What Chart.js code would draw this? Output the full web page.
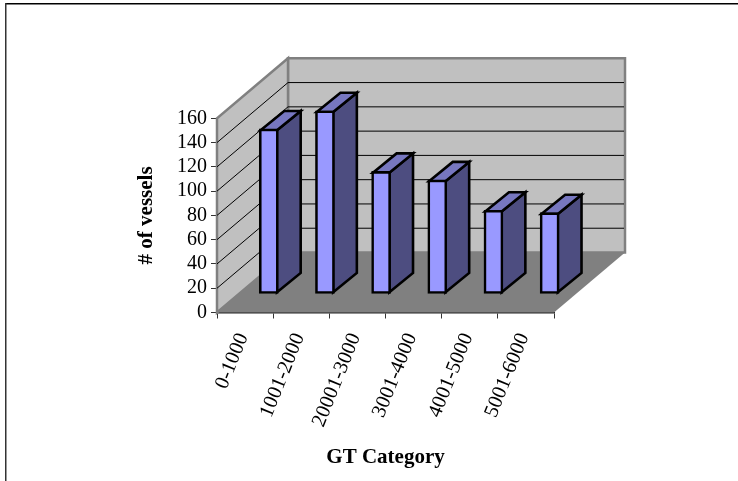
<!DOCTYPE html>
<html>
<head>
<meta charset="utf-8">
<title># of vessels by GT category</title>
<script src="https://cdn.jsdelivr.net/npm/chart.js@4"></script>
<style>
    html, body { margin: 0; padding: 0; background: #fff; }
    canvas { display: block; }
</style>
</head>
<body>
<canvas id="vesselChart" width="738" height="481"></canvas>
<script>
// Chart data
const categories = ['0-1000', '1001-2000', '20001-3000', '3001-4000', '4001-5000', '5001-6000'];
const vessels = [136, 151, 101, 94, 69, 67];
const SERIF = "'Liberation Serif', 'Times New Roman', serif";

// Fake 3D box: how far the back wall sits from the front of the floor
const DEPTH_X = 71;
const DEPTH_Y = 60;
// Bars stand one third of the way into the box and take up another third
const BAR_SHIFT_X = 23.7;
const BAR_SHIFT_Y = 18.5;
const BAR_DEPTH_X = 23.7;
const BAR_DEPTH_Y = 19.3;
const BAR_LINE = 2.6;

function fillPoly(ctx, pts, fill, stroke, lineWidth) {
    ctx.beginPath();
    pts.forEach((p, i) => i ? ctx.lineTo(p[0], p[1]) : ctx.moveTo(p[0], p[1]));
    ctx.closePath();
    ctx.fillStyle = fill;
    ctx.fill();
    if (stroke) {
        ctx.strokeStyle = stroke;
        ctx.lineWidth = lineWidth;
        ctx.lineJoin = 'miter';
        ctx.stroke();
    }
}

// White page with the rule along the top and left
const framePlugin = {
    id: 'frame',
    beforeDraw(chart) {
        const ctx = chart.ctx;
        ctx.save();
        ctx.fillStyle = '#fff';
        ctx.fillRect(0, 0, chart.width, chart.height);
        ctx.fillStyle = '#000';
        ctx.fillRect(5, 3, chart.width - 5, 1.5);
        ctx.fillStyle = '#333';
        ctx.fillRect(5, 3, 1.5, chart.height - 3);
        ctx.restore();
    }
};

// Walls, floor and the gridlines running round them
const boxPlugin = {
    id: 'box',
    beforeDatasetsDraw(chart) {
        const ctx = chart.ctx;
        const { left, right } = chart.chartArea;
        const y = chart.scales.y;
        const y0 = y.getPixelForValue(0);
        const yMax = y.getPixelForValue(160);

        ctx.save();
        fillPoly(ctx, [[left + DEPTH_X, yMax - DEPTH_Y], [right + DEPTH_X, yMax - DEPTH_Y],
            [right + DEPTH_X, y0 - DEPTH_Y], [left + DEPTH_X, y0 - DEPTH_Y]], '#c0c0c0', '#808080', 2.5);
        fillPoly(ctx, [[left, y0], [left, yMax], [left + DEPTH_X, yMax - DEPTH_Y],
            [left + DEPTH_X, y0 - DEPTH_Y]], '#c0c0c0', '#808080', 2.5);
        fillPoly(ctx, [[left, y0], [right, y0], [right + DEPTH_X, y0 - DEPTH_Y],
            [left + DEPTH_X, y0 - DEPTH_Y]], '#808080');

        ctx.strokeStyle = '#000';
        ctx.lineWidth = 1;
        y.ticks.forEach(t => {
            if (t.value === 0 || t.value === 160) return;
            const py = y.getPixelForValue(t.value);
            ctx.beginPath();
            ctx.moveTo(left, py);
            ctx.lineTo(left + DEPTH_X, py - DEPTH_Y);
            ctx.lineTo(right + DEPTH_X - 1, py - DEPTH_Y);
            ctx.stroke();
        });
        ctx.restore();
    }
};

// Side and top faces of each bar, then shift the bar layer back into the box
const barDepthPlugin = {
    id: 'barDepth',
    beforeDatasetsDraw(chart) {
        const ctx = chart.ctx;
        ctx.save();
        ctx.translate(BAR_SHIFT_X, -BAR_SHIFT_Y);
        chart.getDatasetMeta(0).data.forEach(bar => {
            const { x, y, base, width } = bar.getProps(['x', 'y', 'base', 'width'], true);
            const inset = BAR_LINE / 2;
            const l = x - width / 2 + inset;
            const r = x + width / 2 - inset;
            const t = y + inset;
            const b = base - inset;
            fillPoly(ctx, [[r, t], [r + BAR_DEPTH_X, t - BAR_DEPTH_Y],
                [r + BAR_DEPTH_X, b - BAR_DEPTH_Y], [r, b]], '#4d4d80', '#000', BAR_LINE);
            fillPoly(ctx, [[l, t], [l + BAR_DEPTH_X, t - BAR_DEPTH_Y],
                [r + BAR_DEPTH_X, t - BAR_DEPTH_Y], [r, t]], '#7777c0', '#000', BAR_LINE);
        });
    },
    afterDatasetsDraw(chart) {
        chart.ctx.restore();
    }
};

new Chart(document.getElementById('vesselChart').getContext('2d'), {
    type: 'bar',
    data: {
        labels: categories,
        datasets: [{
            data: vessels,
            backgroundColor: '#9999ff',
            borderColor: '#000',
            borderWidth: BAR_LINE,
            borderSkipped: false,
            barThickness: 19,
            clip: false
        }]
    },
    options: {
        responsive: false,
        animation: false,
        layout: { padding: { left: 0, top: 118.3, right: 184, bottom: 0 } },
        plugins: {
            legend: { display: false },
            tooltip: { enabled: false }
        },
        scales: {
            x: {
                afterFit(scale) { scale.height = 168.5; },
                border: { color: '#222', width: 1.5 },
                grid: { drawOnChartArea: false, tickLength: 6, color: '#333' },
                ticks: {
                    autoSkip: false,
                    minRotation: 68,
                    maxRotation: 68,
                    padding: 11,
                    labelOffset: -2,
                    color: '#000',
                    font: { family: SERIF, size: 20.5 }
                },
                title: {
                    display: true,
                    text: 'GT Category',
                    color: '#000',
                    padding: { top: 0, bottom: 10.4 },
                    font: { family: SERIF, size: 21, weight: 'bold' }
                }
            },
            y: {
                min: 0,
                max: 160,
                afterFit(scale) { scale.width = 217; },
                border: { color: '#808080', width: 1.5 },
                grid: { drawOnChartArea: false, tickLength: 6, color: '#333' },
                ticks: {
                    autoSkip: false,
                    stepSize: 20,
                    padding: 4,
                    color: '#000',
                    font: { family: SERIF, size: 20 }
                },
                title: {
                    display: true,
                    text: '# of vessels',
                    color: '#000',
                    padding: { top: 134, bottom: 0 },
                    font: { family: SERIF, size: 21, weight: 'bold' }
                }
            }
        }
    },
    plugins: [framePlugin, boxPlugin, barDepthPlugin]
});
</script>
</body>
</html>
